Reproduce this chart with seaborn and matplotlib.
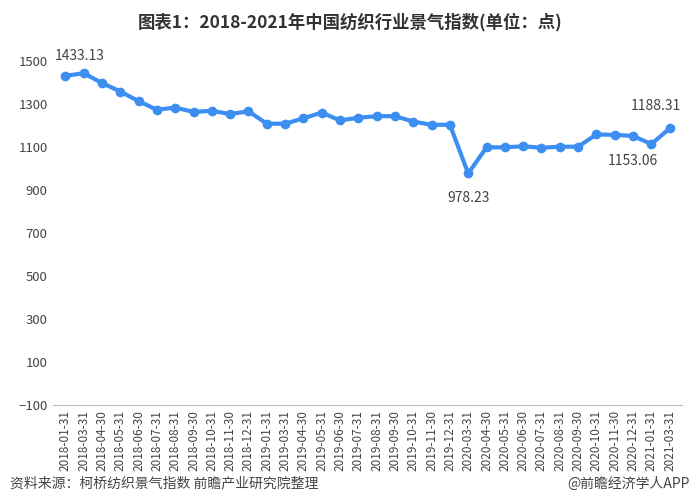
import matplotlib
matplotlib.use("Agg")
import matplotlib.pyplot as plt
import seaborn as sns
import pandas as pd

dates = ["2018-01-31","2018-03-31","2018-04-30","2018-05-31","2018-06-30","2018-07-31","2018-08-31",
         "2018-09-30","2018-10-31","2018-11-30","2018-12-31","2019-01-31","2019-03-31","2019-04-30",
         "2019-05-31","2019-06-30","2019-07-31","2019-08-31","2019-09-30","2019-10-31","2019-11-30",
         "2019-12-31","2020-03-31","2020-04-30","2020-05-31","2020-06-30","2020-07-31","2020-08-31",
         "2020-09-30","2020-10-31","2020-11-30","2020-12-31","2021-01-31","2021-03-31"]
values = [1433.13,1445,1400,1360,1315,1275,1285,1265,1270,1255,1268,1210,1210,1235,1262,1225,1238,1245,
          1245,1220,1205,1205,978.23,1100,1100,1105,1098,1103,1103,1160,1158,1153.06,1115,1188.31]
yticks = [-100,100,300,500,700,900,1100,1300,1500]

sns.set_style("white")
plt.rcParams['font.family'] = ['Noto Sans CJK SC', 'DejaVu Sans']
df = pd.DataFrame({"date": dates, "value": values})
fig, ax = plt.subplots(figsize=(7, 5), dpi=100)
sns.lineplot(data=df, x="date", y="value", ax=ax, color="#3c8ff0", linewidth=3,
             marker="o", markersize=7, markeredgewidth=0, sort=False)
ax.set_ylim(-100, 1530)
ax.set_yticks(yticks)
ax.set_xlim(-0.7, len(dates) - 0.3)
ax.tick_params(axis='x', rotation=90, labelsize=8.5, colors="#444444", length=0)
ax.tick_params(axis='y', labelsize=9.5, colors="#444444", length=0)
ax.set_xlabel(""); ax.set_ylabel("")
for s in ["top", "right", "left"]:
    ax.spines[s].set_visible(False)
ax.spines["bottom"].set_color("#bbbbbb")
ax.spines["bottom"].set_position(("data", -100))
for i, txt, dx, dy in [(0, "1433.13", 10, 14), (22, "978.23", 0, -18), (31, "1153.06", 0, -18), (33, "1188.31", -10, 16)]:
    ax.annotate(txt, (i, values[i]), xytext=(dx, dy), textcoords="offset points",
                ha="center", va="center", fontsize=10, color="#444444")
fig.suptitle("图表1：2018-2021年中国纺织行业景气指数(单位：点)", fontsize=12.5, fontweight="bold",
             color="#333333", y=0.975)
fig.text(0.015, 0.025, "资料来源：柯桥纺织景气指数 前瞻产业研究院整理", fontsize=10, color="#444444")
fig.text(0.985, 0.025, "@前瞻经济学人APP", fontsize=10, color="#444444", ha="right")
fig.subplots_adjust(left=0.075, right=0.975, top=0.89, bottom=0.19)
fig.savefig("out.png")
